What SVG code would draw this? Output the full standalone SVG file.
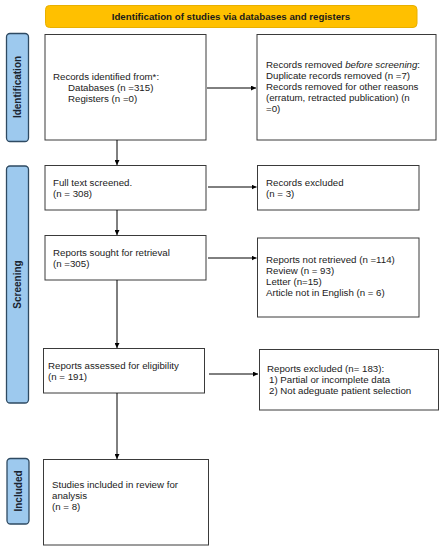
<svg xmlns="http://www.w3.org/2000/svg" width="444" height="550" viewBox="0 0 444 550">
<defs>
<style>
text{font-family:"Liberation Sans",Arial,sans-serif;font-size:9.7px;fill:#1a1a1a}
.box{fill:#fff;stroke:#3a3a3a;stroke-width:1}
.phase{fill:#9dc9ee;stroke:#2e4a62;stroke-width:1.3}
.phase-t{font-weight:bold;font-size:10px;text-anchor:middle;fill:#1a2430}
.hdr{fill:#ffc000;stroke:#e8b000;stroke-width:1}
.hdr-t{font-weight:bold;text-anchor:middle}
.edge{stroke:#000;stroke-width:1;fill:none;marker-end:url(#ah)}
</style>
<marker id="ah" viewBox="0 0 10 10" refX="10" refY="5" markerWidth="5" markerHeight="5" markerUnits="userSpaceOnUse" orient="auto">
<path d="M0,0 L10,5 L0,10 z" fill="#000"/>
</marker>
</defs>
<rect width="444" height="550" fill="#fff"/>
<g id="header">
<rect class="hdr" x="45.5" y="5.5" width="371.5" height="22" rx="4"/>
<text class="hdr-t" x="231" y="19.8">Identification of studies via databases and registers</text>
</g>
<g id="phase-identification">
<rect class="phase" x="6.5" y="33.5" width="22" height="108" rx="3.5"/>
<text class="phase-t" transform="translate(21,87) rotate(-90)">Identification</text>
</g>
<g id="phase-screening">
<rect class="phase" x="6.5" y="166" width="22" height="237" rx="3.5"/>
<text class="phase-t" transform="translate(21,284.5) rotate(-90)">Screening</text>
</g>
<g id="phase-included">
<rect class="phase" x="7" y="458.5" width="22" height="65.5" rx="3.5"/>
<text class="phase-t" transform="translate(21.5,491) rotate(-90)">Included</text>
</g>
<g id="records-identified">
<rect class="box" x="45" y="34.5" width="161" height="105.5"/>
<text x="53" y="80">Records identified from*:</text>
<text x="68" y="91">Databases (n =315)</text>
<text x="68" y="102">Registers (n =0)</text>
</g>
<g id="records-removed">
<rect class="box" x="257" y="34.5" width="179" height="105.5"/>
<text x="266" y="67.5">Records removed <tspan font-style="italic">before screening</tspan>:</text>
<text x="266" y="78.5">Duplicate records removed (n =7)</text>
<text x="266" y="89.5">Records removed for other reasons</text>
<text x="266" y="100.5">(erratum, retracted publication) (n</text>
<text x="266" y="111.5">=0)</text>
</g>
<g id="full-text">
<rect class="box" x="45" y="165.5" width="161" height="44.5"/>
<text x="53" y="186">Full text screened.</text>
<text x="53" y="197">(n = 308)</text>
</g>
<g id="records-excluded">
<rect class="box" x="257.5" y="165.5" width="161.5" height="44.5"/>
<text x="266" y="186">Records excluded</text>
<text x="266" y="197">(n = 3)</text>
</g>
<g id="reports-sought">
<rect class="box" x="45" y="235.5" width="161" height="44.5"/>
<text x="53" y="255.5">Reports sought for retrieval</text>
<text x="53" y="266.5">(n =305)</text>
</g>
<g id="reports-not-retrieved">
<rect class="box" x="257.5" y="238" width="161.5" height="79"/>
<text x="266" y="262.5">Reports not retrieved (n =114)</text>
<text x="266" y="273.5">Review (n = 93)</text>
<text x="266" y="284.5">Letter (n=15)</text>
<text x="266" y="295.5">Article not in English (n = 6)</text>
</g>
<g id="reports-assessed">
<rect class="box" x="43.5" y="348.5" width="161" height="44.5"/>
<text x="48" y="368.5">Reports assessed for eligibility</text>
<text x="48" y="379.5">(n = 191)</text>
</g>
<g id="reports-excluded">
<rect class="box" x="259.5" y="349.5" width="179" height="60.5"/>
<text x="267" y="372">Reports excluded (n= 183):</text>
<text x="269" y="383">1) Partial or incomplete data</text>
<text x="269" y="394">2) Not adeguate patient selection</text>
</g>
<g id="studies-included">
<rect class="box" x="43.5" y="459.5" width="165" height="85.5"/>
<text x="52" y="487.5">Studies included in review for</text>
<text x="52" y="498.5">analysis</text>
<text x="52" y="509.5">(n = 8)</text>
</g>
<g id="connectors">
<line class="edge" x1="207" y1="88" x2="256" y2="88"/>
<line class="edge" x1="208" y1="187" x2="256.5" y2="187"/>
<line class="edge" x1="208" y1="258" x2="256.5" y2="258"/>
<line class="edge" x1="209" y1="374" x2="258" y2="374"/>
<line class="edge" x1="117" y1="140" x2="117" y2="165"/>
<line class="edge" x1="117" y1="210" x2="117" y2="235"/>
<line class="edge" x1="117" y1="280" x2="117" y2="348"/>
<line class="edge" x1="117" y1="393" x2="117" y2="459"/>
</g>
</svg>
